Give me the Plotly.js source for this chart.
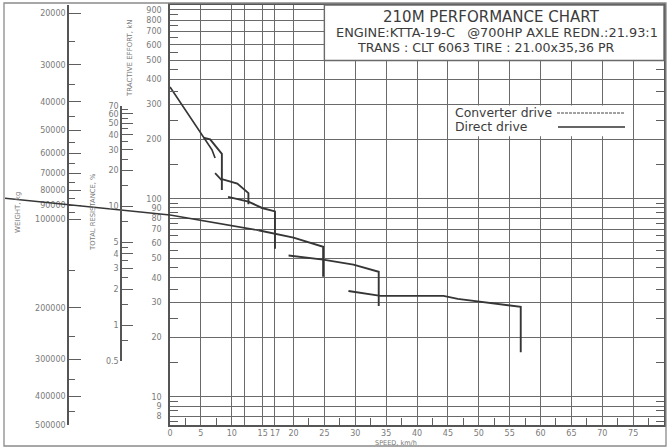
<!DOCTYPE html>
<html>
<head>
<meta charset="utf-8">
<script src="https://cdn.plot.ly/plotly-3.0.1.min.js"></script>
<style>html,body{margin:0;padding:0;background:#fff;}#chart{width:669px;height:448px;}</style>
</head>
<body>
<div id="chart"></div>
<script>
// ---------- data ----------
const speedTicks = [0,5,10,12,15,17,20,25,30,35,40,45,50,55,60,65,70,75,80];
const speedTickText = ['0','5','10','','15','17','20','25','30','35','40','45','50','55','60','65','70','75','80'];
const speedMinor = [2.5,7.5,22.5,27.5,32.5,37.5,42.5,47.5,52.5,57.5,62.5,67.5,72.5,77.5];

const effortTicks = [7,8,9,10,20,30,40,50,60,70,80,90,100,200,300,400,500,600,700,800,900];
const effortMinor = [7.5,8.5,9.5,15,25,35,45,55,65,75,85,95,150,250,350,450,550,650,750,850];

const weightTicks = [20000,30000,40000,50000,60000,70000,80000,90000,100000,200000,300000,400000,500000];
const weightMinor = [25000,35000,45000,55000,65000,75000,85000,95000,150000,250000,350000,450000];

const resistTicks = [0.5,1,2,3,4,5,10,20,30,40,50,60,70];
const resistMinor = [0.75,1.5,2.5,3.5,4.5,7.5,15,25,35,45,55,65];

// converter drive curves (speed km/h, tractive effort kN)
const conv1Speed = [0, 5.4, 6.8, 7.3];
const conv1Effort = [367, 204, 177, 161];
const conv2Speed = [7.3, 8.4];
const conv2Effort = [135, 124];

// direct drive curves
const dir1Speed = [5.4, 6.5, 8.4, 8.4];
const dir1Effort = [204, 200, 169, 111];
const dir2Speed = [8.4, 10.9, 12.7, 12.7];
const dir2Effort = [126, 119.5, 107, 94];
const dir3Speed = [9.4, 12.7, 14.9, 17.0, 17.0];
const dir3Effort = [102.4, 96.9, 90, 86.5, 56.1];
const dir4Speed = [14.3, 17.0, 20.0, 24.8, 24.8];
const dir4Effort = [69.5, 66.8, 63.8, 57.3, 40.5];
const dir5Speed = [19.2, 24.8, 29.7, 33.8, 33.8];
const dir5Effort = [51.8, 49.4, 46.6, 42.9, 28.8];
const dir6Speed = [28.9, 34.1, 44.3, 46.6, 56.8, 56.8];
const dir6Effort = [34.3, 32.4, 32.4, 31.3, 28.5, 16.8];

// example read-off line (negative speed = left of the speed scale, across the nomogram)
const readSpeed = [-27, 0, 14.3];
const readEffort = [101, 83, 69.5];

// ---------- layout helpers ----------
const W = 669, H = 448, ML = 5, MR = 5, MT = 5, MB = 23;
const PW = W - ML - MR, PH = H - MT - MB;
const fx = px => (px - ML) / PW;
const fy = py => (H - MB - py) / PH;
const xStart = fx(170);
const effortRange = [Math.log10(7.22), Math.log10(953)];
const weightRange = [Math.log10(500000), 4.2739];
const resistRange = [Math.log10(0.5), Math.log10(70)];
const leftRange = [-(170 - ML) / ((664 - 170) / 80), 0];
const spX = s => xStart + (s / 80) * (1 - xStart);
const spY = v => (Math.log10(v) - effortRange[0]) / (effortRange[1] - effortRange[0]);

const gridColor = '#6a6a6a';
const tickColor = '#5e5e5e';
const curveColor = '#363636';
const tickFont = {family: 'DejaVu Sans, Liberation Sans, sans-serif', size: 8, color: '#7a7a7a'};
const titleFont = 'DejaVu Sans, Liberation Sans, sans-serif';

function curve(xs, ys, width, xa, ya) {
  return {x: xs, y: ys, type: 'scatter', mode: 'lines', xaxis: xa || 'x', yaxis: ya || 'y',
    line: {color: curveColor, width: width || 1.9},
    hoverinfo: 'skip', showlegend: false};
}
function dummy(xa, ya, xs, ys) {
  return {x: xs, y: ys, type: 'scatter', mode: 'lines', xaxis: xa, yaxis: ya,
    opacity: 0, hoverinfo: 'skip', showlegend: false};
}
// split the read-off line at the speed origin: left part on the nomogram, right part in the chart
const readLeftIdx = readSpeed.map((s, i) => i).filter(i => readSpeed[i] <= 0);
const readRightIdx = readSpeed.map((s, i) => i).filter(i => readSpeed[i] >= 0);

const traces = [
  curve(conv1Speed, conv1Effort, 1.7),
  curve(conv2Speed, conv2Effort, 1.7),
  curve(dir1Speed, dir1Effort),
  curve(dir2Speed, dir2Effort),
  curve(dir3Speed, dir3Effort),
  curve(dir4Speed, dir4Effort),
  curve(dir5Speed, dir5Effort),
  curve(dir6Speed, dir6Effort),
  curve(readRightIdx.map(i => readSpeed[i]), readRightIdx.map(i => readEffort[i]), 1.6),
  curve(readLeftIdx.map(i => readSpeed[i]), readLeftIdx.map(i => readEffort[i]), 1.6, 'x2', 'y4'),
  dummy('x', 'y2', [40, 40], [weightTicks[0], weightTicks[weightTicks.length-1]]),
  dummy('x', 'y8', [40, 40], [weightTicks[0], weightTicks[weightTicks.length-1]]),
  dummy('x6', 'y3', [0.5, 0.5], [resistTicks[0], resistTicks[resistTicks.length-1]]),
  dummy('x6', 'y9', [0.5, 0.5], [resistTicks[0], resistTicks[resistTicks.length-1]]),
  dummy('x7', 'y', [40, 40], [20, 30]),
  dummy('x', 'y7', [40, 40], [20, 30])
];

const ann = (text, x, y, size, opts) => Object.assign({
  text: text, xref: 'paper', yref: 'paper', x: x, y: y, showarrow: false,
  xanchor: 'center', yanchor: 'middle',
  font: {family: titleFont, size: size, color: '#3c3c3c'}
}, opts || {});

const sideFont = {family: 'DejaVu Sans, sans-serif', size: 8, color: '#7a7a7a'};

const layout = {
  width: W, height: H,
  margin: {l: ML, r: MR, t: MT, b: MB},
  paper_bgcolor: '#ffffff', plot_bgcolor: 'rgba(255,255,255,0)',
  showlegend: false,
  xaxis: {
    domain: [xStart, 1], range: [0, 80], tickmode: 'array', tickvals: speedTicks, ticktext: speedTickText,
    showgrid: true, gridcolor: gridColor, gridwidth: 1.4, zeroline: false,
    showline: true, linecolor: '#555', linewidth: 1.5, mirror: true, ticks: '',
    tickfont: tickFont, anchor: 'y'
  },
  yaxis: {
    type: 'log', domain: [0, 1], range: effortRange, tickmode: 'array', tickvals: effortTicks,
    ticktext: effortTicks.map(String), showgrid: true, gridcolor: gridColor, gridwidth: 1.4, zeroline: false,
    showline: true, linecolor: '#555', linewidth: 1.5, mirror: true, ticks: '',
    ticklabelstandoff: 5, tickfont: tickFont, anchor: 'x'
  },
  xaxis7: {overlaying: 'x', range: [0, 80], tickmode: 'array', tickvals: speedMinor, ticks: 'inside', ticklen: 7,
    tickcolor: tickColor, tickwidth: 1, showticklabels: false, showgrid: false, zeroline: false, side: 'bottom', anchor: 'y'},
  yaxis7: {overlaying: 'y', type: 'log', range: effortRange, tickmode: 'array', tickvals: effortMinor, ticks: 'inside', ticklen: 8,
    tickcolor: tickColor, tickwidth: 1, showticklabels: false, showgrid: false, zeroline: false, side: 'left', anchor: 'x', mirror: 'ticks'},
  xaxis2: {domain: [0, xStart], range: leftRange, visible: false, anchor: 'y4'},
  yaxis4: {domain: [0, 1], type: 'log', range: effortRange, visible: false, anchor: 'x2'},
  yaxis2: {type: 'log', overlaying: 'y', anchor: 'free', position: fx(68), side: 'left',
    range: weightRange, tickmode: 'array', tickvals: weightTicks, ticktext: weightTicks.map(String),
    showline: true, linecolor: '#555', linewidth: 1.5, ticks: 'inside', ticklen: 12, tickcolor: tickColor, tickwidth: 1,
    showgrid: false, zeroline: false, tickfont: sideFont},
  yaxis8: {type: 'log', overlaying: 'y', anchor: 'free', position: fx(68), side: 'left',
    range: weightRange, tickmode: 'array', tickvals: weightMinor, showticklabels: false,
    showline: false, ticks: 'inside', ticklen: 6, tickcolor: tickColor, tickwidth: 1, showgrid: false, zeroline: false},
  xaxis6: {domain: [fx(122), 1], range: [0, 1], visible: false, anchor: 'y3'},
  yaxis3: {type: 'log', domain: [fy(361), fy(106)], range: resistRange, anchor: 'x6',
    tickmode: 'array', tickvals: resistTicks, ticktext: resistTicks.map(String),
    showline: true, linecolor: '#555', linewidth: 1.5, ticks: 'inside', ticklen: 11, tickcolor: tickColor, tickwidth: 1,
    showgrid: false, zeroline: false, tickfont: sideFont},
  yaxis9: {type: 'log', overlaying: 'y3', range: resistRange, anchor: 'x6',
    tickmode: 'array', tickvals: resistMinor, showticklabels: false,
    showline: false, ticks: 'inside', ticklen: 6, tickcolor: tickColor, tickwidth: 1, showgrid: false, zeroline: false},
  shapes: [
    // title box
    {type: 'rect', xref: 'paper', yref: 'paper', x0: spX(25), x1: spX(80), y0: spY(500), y1: 1,
     fillcolor: '#ffffff', line: {color: gridColor, width: 1.4}, layer: 'above'},
    // legend box
    {type: 'rect', xref: 'paper', yref: 'paper', x0: spX(45.6), x1: spX(74.8), y0: spY(207), y1: spY(296),
     fillcolor: '#ffffff', line: {width: 0}, layer: 'above'},
    // legend sample lines
    {type: 'line', xref: 'paper', yref: 'paper', x0: fx(557), x1: fx(625), y0: fy(113), y1: fy(113),
     line: {color: '#444', width: 1, dash: '3px,1px'}, layer: 'above'},
    {type: 'line', xref: 'paper', yref: 'paper', x0: fx(558), x1: fx(625), y0: fy(127), y1: fy(127),
     line: {color: '#333', width: 1.5}, layer: 'above'},
    // outer frame
    {type: 'rect', xref: 'paper', yref: 'paper', x0: fx(4), x1: fx(666), y0: fy(446), y1: fy(3),
     line: {color: '#8a8a8a', width: 1.3}, layer: 'above'}
  ],
  annotations: [
    ann('210M PERFORMANCE CHART', fx(491), fy(17), 15),
    ann('ENGINE:KTTA-19-C \u00a0\u00a0@700HP AXLE REDN.:21.93:1', fx(497), fy(33), 12.9),
    ann('TRANS : CLT 6063 TIRE : 21.00x35,36 PR', fx(486), fy(48), 12.6),
    ann('Converter drive', fx(453), fy(113), 12.4, {xanchor: 'left'}),
    ann('Direct drive', fx(453), fy(127), 12.4, {xanchor: 'left'}),
    ann('SPEED, km/h', fx(396), fy(443), 6.5, {font: {family: titleFont, size: 6.5, color: '#777'}}),
    ann('WEIGHT, kg', fx(18), fy(213), 7, {textangle: -90, font: {family: titleFont, size: 7, color: '#777'}}),
    ann('TOTAL RESISTANCE, %', fx(93), fy(212), 6.8, {textangle: -90, font: {family: titleFont, size: 6.8, color: '#777'}}),
    ann('TRACTIVE EFFORT, kN', fx(130), fy(58), 7, {textangle: -90, font: {family: titleFont, size: 7, color: '#777'}})
  ]
};

Plotly.newPlot('chart', traces, layout, {displayModeBar: false});
</script>
</body>
</html>
